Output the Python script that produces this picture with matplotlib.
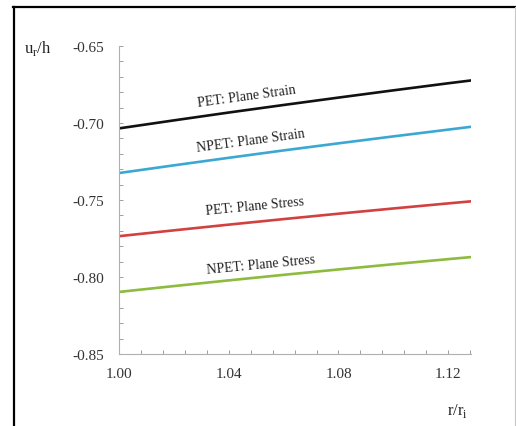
import matplotlib
matplotlib.use("Agg")
import matplotlib.pyplot as plt
from matplotlib.lines import Line2D
from matplotlib.ticker import MultipleLocator

plt.rcParams['font.family'] = ['Liberation Serif', 'DejaVu Serif']
plt.rcParams['mathtext.fontset'] = 'custom'
plt.rcParams['mathtext.rm'] = 'Liberation Serif'

# radial position r/ri
r_ratio = [1.00, 1.02, 1.04, 1.06, 1.08, 1.10, 1.12, 1.13]

# normalized radial displacement ur/h
pet_strain = [-0.7035, -0.6983, -0.6932, -0.6883, -0.6835, -0.6788, -0.6742, -0.6720]
npet_strain = [-0.7325, -0.7275, -0.7226, -0.7178, -0.7132, -0.7087, -0.7043, -0.7021]
pet_stress = [-0.7735, -0.7697, -0.7660, -0.7624, -0.7589, -0.7555, -0.7522, -0.7506]
npet_stress = [-0.8097, -0.8059, -0.8022, -0.7986, -0.7951, -0.7917, -0.7884, -0.7868]

curve_names = ["PET: Plane Strain", "NPET: Plane Strain",
               "PET: Plane Stress", "NPET: Plane Stress"]

W, H = 516, 427
fig = plt.figure(figsize=(W / 100, H / 100), dpi=100)
ax = fig.add_axes([119 / W, 1 - 355 / H, (471 - 119) / W, (355 - 47) / H])

series = [pet_strain, npet_strain, pet_stress, npet_stress]
colors = ["#111111", "#3aa8d2", "#d2403f", "#8dbb3e"]
for ys, c in zip(series, colors):
    ax.plot(r_ratio, ys, color=c, lw=1.9, solid_capstyle='butt')

ax.set_xlim(1.00, 1.1283)
ax.set_ylim(-0.85, -0.65)
ax.set_xticks([1.00, 1.04, 1.08, 1.12])
ax.set_yticks([-0.85, -0.80, -0.75, -0.70, -0.65])
ax.xaxis.set_minor_locator(MultipleLocator(0.008))
ax.yaxis.set_minor_locator(MultipleLocator(0.01))
ax.set_xticklabels(["1.00", "1.04", "1.08", "1.12"])
ax.set_yticklabels(["-0.85", "-0.80", "-0.75", "-0.70", "-0.65"])

for s in ["top", "right"]:
    ax.spines[s].set_visible(False)
for s in ["left", "bottom"]:
    ax.spines[s].set_color("#b0b0b0")
    ax.spines[s].set_linewidth(0.8)

ax.tick_params(which='both', direction='in', color="#a0a0a0", width=0.7,
               length=3, labelsize=11, labelcolor="#333333")
ax.tick_params(axis='y', pad=11)
ax.tick_params(axis='x', pad=9)

# curve labels along each line
label_pos = [(1.0467, -0.6825, 7.8), (1.0481, -0.7110, 7.7),
             (1.0496, -0.7539, 5.6), (1.0518, -0.7916, 5.6)]
for name, (lx, ly, rot) in zip(curve_names, label_pos):
    ax.text(lx, ly, name, fontsize=10, color="#222222", rotation=rot,
            ha='center', va='center', rotation_mode='anchor')

fig.text(38 / W, 1 - 48 / H, r"u$_\mathregular{r}$/h", fontsize=12,
         ha='center', va='center', color="#222222")
fig.text(457 / W, 1 - 411 / H, r"r/r$_\mathregular{i}$", fontsize=12,
         ha='center', va='center', color="#222222")

# outer frame
fig.add_artist(Line2D([13.5 / W, 13.5 / W], [0, 1 - 8 / H], color='black', lw=1.6))
fig.add_artist(Line2D([13 / W, 1], [1 - 8 / H, 1 - 8 / H], color='black', lw=1.6))
fig.add_artist(Line2D([515 / W, 515 / W], [0, 1 - 8 / H], color='#c8c8c8', lw=0.8))

fig.savefig("out.png", dpi=100)
